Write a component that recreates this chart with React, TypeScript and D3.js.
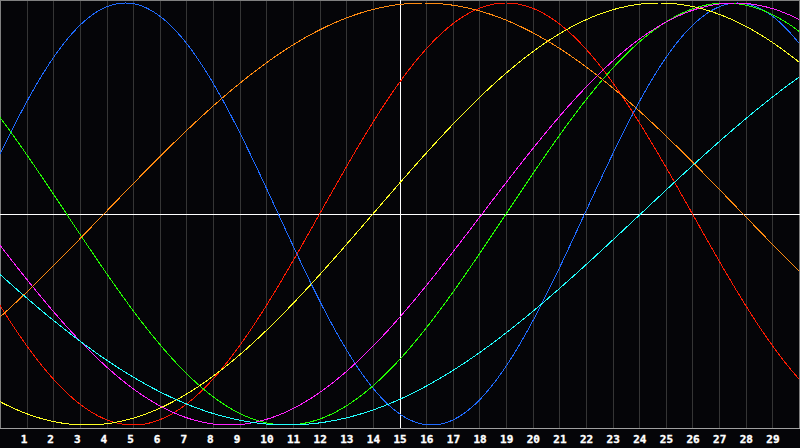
import React from 'react';
import * as d3 from 'd3';

// biorhythm cycles
const cycleNames = ['physical', 'emotional', 'intellectual', 'intuitive', 'aesthetic', 'awareness', 'spiritual'];
const cycleLengths = [23, 28, 33, 38, 43, 48, 53];
const peakDays = [4.7, 19.0, 27.25, 27.6, 24.75, 15.9, 37.3];
const cycleColors = ['#1f6bff', '#ff1a00', '#22ff00', '#ff22ff', '#ffff22', '#ff8a10', '#22ffff'];

const dayLabels = d3.range(1, 30).map(String);
const today = 15;

const width = 800;
const height = 448;
const plotBottom = 428;

const App = () => {
  const x = d3.scaleLinear().domain([0, 30]).range([0, width - 1]);
  const y = d3.scaleLinear().domain([-1, 1]).range([425, 3]);

  const line = d3
    .line<[number, number]>()
    .x((d) => x(d[0]))
    .y((d) => y(d[1]))
    .curve(d3.curveLinear);

  const days = d3.range(0, 30.01, 0.05);

  const series = cycleNames.map((name, i) => ({
    name,
    color: cycleColors[i],
    points: days.map((t) => [t, Math.cos((2 * Math.PI * (t - peakDays[i])) / cycleLengths[i])] as [number, number]),
  }));

  return (
    <svg
      width={width}
      height={height}
      style={{ position: 'fixed', left: 0, top: 0, display: 'block' }}
    >
      <rect x={0} y={0} width={width} height={height} fill="#050508" />

      {dayLabels.map((lab) => (
        <line
          key={'g' + lab}
          x1={Math.round(x(+lab)) + 0.5}
          x2={Math.round(x(+lab)) + 0.5}
          y1={0}
          y2={plotBottom}
          stroke="#353535"
          strokeWidth={1}
          shapeRendering="crispEdges"
        />
      ))}

      {/* frame */}
      <path
        d={`M0.5,${plotBottom}V0.5H${width - 0.5}V${plotBottom}`}
        fill="none"
        stroke="#808080"
        strokeWidth={1}
        shapeRendering="crispEdges"
      />
      <line x1={0} x2={width} y1={plotBottom + 0.5} y2={plotBottom + 0.5} stroke="#a0a0a0" shapeRendering="crispEdges" />

      {/* zero line and today marker */}
      <line x1={0} x2={width} y1={Math.round(y(0)) + 0.5} y2={Math.round(y(0)) + 0.5} stroke="#ffffff" shapeRendering="crispEdges" />
      <line x1={x(today) + 0.5} x2={x(today) + 0.5} y1={0} y2={plotBottom} stroke="#ffffff" shapeRendering="crispEdges" />

      {series.map((s) => (
        <path
          key={s.name}
          d={line(s.points) || ''}
          fill="none"
          stroke={s.color}
          strokeWidth={1}
          shapeRendering="crispEdges"
        />
      ))}

      {dayLabels.map((lab) => (
        <text
          key={'t' + lab}
          x={x(+lab) - 6}
          y={443}
          fill="#ffffff"
          stroke="#ffffff"
          strokeWidth={0.35}
          fontFamily="'DejaVu Sans Mono', monospace"
          fontWeight="bold"
          fontSize={11}
        >
          {lab}
        </text>
      ))}
    </svg>
  );
};

export default App;
